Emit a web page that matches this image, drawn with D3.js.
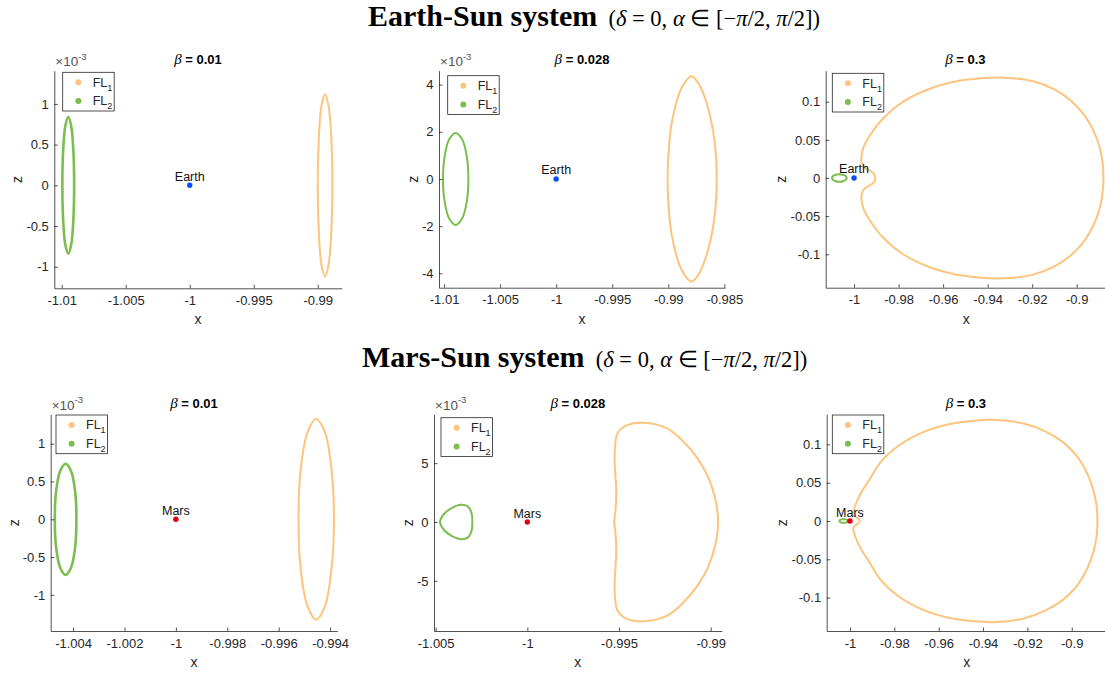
<!DOCTYPE html>
<html>
<head>
<meta charset="utf-8">
<script src="https://cdn.jsdelivr.net/npm/d3@7"></script>
<style>
  body { margin: 0; background: #fff; }
  svg { display: block; }
  text { font-family: "Liberation Sans", Arial, sans-serif; }
</style>
</head>
<body>
<svg id="chart" width="1105" height="673"></svg>
<script>
// ---- data ----
const systemNames = ['Earth', 'Mars'];
const betaLabels = ['0.01', '0.028', '0.3'];
const seriesNames = ['FL1', 'FL2'];
const planetPos = [-1, 0];

// Earth-Sun, beta = 0.01   (z in units of 1e-3)
const es001FL1 = [[-0.98886,0],[-0.98894,0.56],[-0.98915,0.97],[-0.98943,1.12],[-0.98972,0.97],[-0.98992,0.56],[-0.99000,0],[-0.98992,-0.56],[-0.98972,-0.97],[-0.98943,-1.12],[-0.98915,-0.97],[-0.98894,-0.56]];
const es001FL2 = [[-1.00903,0],[-1.00909,0.42],[-1.00926,0.73],[-1.00949,0.84],[-1.00972,0.73],[-1.00989,0.42],[-1.00995,0],[-1.00989,-0.42],[-1.00972,-0.73],[-1.00949,-0.84],[-1.00926,-0.73],[-1.00909,-0.42]];

// Earth-Sun, beta = 0.028  (z in units of 1e-3)
const es0028FL1 = [[-0.98569,0],[-0.98574,0.95],[-0.98613,2.36],[-0.98688,3.64],[-0.98740,4.12],[-0.98792,4.35],[-0.98848,4.12],[-0.98896,3.70],[-0.98970,2.36],[-0.99000,0.95],[-0.99006,0],[-0.99000,-0.95],[-0.98970,-2.36],[-0.98896,-3.70],[-0.98848,-4.12],[-0.98792,-4.35],[-0.98740,-4.12],[-0.98688,-3.64],[-0.98613,-2.36],[-0.98574,-0.95]];
const es0028FL2 = [[-1.00783,0],[-1.00798,0.98],[-1.00840,1.69],[-1.00896,1.95],[-1.00953,1.69],[-1.00994,0.98],[-1.01009,0],[-1.00994,-0.98],[-1.00953,-1.69],[-1.00896,-1.95],[-1.00840,-1.69],[-1.00798,-0.98]];

// Earth-Sun, beta = 0.3
const es03FL1 = [[-0.8880,0],[-0.8884,0.0200],[-0.8897,0.0400],[-0.8925,0.0620],[-0.8965,0.0820],[-0.9025,0.1010],[-0.9100,0.1160],[-0.9200,0.1270],[-0.9330,0.1315],[-0.9440,0.1303],[-0.9545,0.1265],[-0.9660,0.1170],[-0.9780,0.1000],[-0.9870,0.0780],[-0.9928,0.0560],[-0.9955,0.0420],[-0.9966,0.0300],[-0.9965,0.0200],[-0.9950,0.0130],[-0.9925,0.0090],[-0.9908,0.0045],[-0.9905,0],[-0.9908,-0.0045],[-0.9925,-0.0090],[-0.9950,-0.0130],[-0.9965,-0.0200],[-0.9966,-0.0300],[-0.9955,-0.0420],[-0.9928,-0.0560],[-0.9870,-0.0780],[-0.9780,-0.1000],[-0.9660,-0.1170],[-0.9545,-0.1265],[-0.9440,-0.1303],[-0.9330,-0.1315],[-0.9200,-0.1270],[-0.9100,-0.1160],[-0.9025,-0.1010],[-0.8965,-0.0820],[-0.8925,-0.0620],[-0.8897,-0.0400],[-0.8884,-0.0200]];
const es03FL2 = [[-1.00330,0],[-1.00374,0.0025],[-1.00495,0.0043],[-1.00660,0.0050],[-1.00825,0.0043],[-1.00946,0.0025],[-1.00990,0],[-1.00946,-0.0025],[-1.00825,-0.0043],[-1.00660,-0.0050],[-1.00495,-0.0043],[-1.00374,-0.0025]];

// Mars-Sun, beta = 0.01    (z in units of 1e-3)
const ms001FL1 = [[-0.99385,0],[-0.99395,0.67],[-0.99420,1.15],[-0.99454,1.33],[-0.99488,1.15],[-0.99514,0.67],[-0.99523,0],[-0.99514,-0.67],[-0.99488,-1.15],[-0.99454,-1.33],[-0.99420,-1.15],[-0.99395,-0.67]];
const ms001FL2 = [[-1.00387,0],[-1.00392,0.37],[-1.00408,0.64],[-1.00429,0.735],[-1.00450,0.64],[-1.00466,0.37],[-1.00471,0],[-1.00466,-0.37],[-1.00450,-0.64],[-1.00429,-0.735],[-1.00408,-0.64],[-1.00392,-0.37]];

// Mars-Sun, beta = 0.028   (z in units of 1e-3)
const ms0028FL1 = [[-0.98960,0],[-0.98962,0.74],[-0.98978,2.15],[-0.99015,3.85],[-0.99072,5.41],[-0.99148,6.82],[-0.99238,7.96],[-0.99366,8.44],[-0.99466,8.16],[-0.99508,7.54],[-0.99520,6.69],[-0.99524,5.27],[-0.99519,3.85],[-0.99515,2.44],[-0.99519,1.02],[-0.99526,0],[-0.99519,-1.02],[-0.99515,-2.44],[-0.99519,-3.85],[-0.99524,-5.27],[-0.99520,-6.69],[-0.99508,-7.54],[-0.99466,-8.16],[-0.99366,-8.44],[-0.99238,-7.96],[-0.99148,-6.82],[-0.99072,-5.41],[-0.99015,-3.85],[-0.98978,-2.15],[-0.98962,-0.74]];
const ms0028FL2 = [[-1.00300,0],[-1.00304,0.75],[-1.00325,1.33],[-1.00365,1.46],[-1.00411,1.20],[-1.00453,0.70],[-1.00476,0],[-1.00453,-0.70],[-1.00411,-1.20],[-1.00365,-1.46],[-1.00325,-1.33],[-1.00304,-0.75]];

// Mars-Sun, beta = 0.3
const ms03FL1 = [[-0.8884,0],[-0.8888,0.0200],[-0.8902,0.0400],[-0.8930,0.0620],[-0.8975,0.0840],[-0.9040,0.1030],[-0.9120,0.1170],[-0.9220,0.1275],[-0.9338,0.1319],[-0.9450,0.1307],[-0.9560,0.1260],[-0.9670,0.1160],[-0.9780,0.0985],[-0.9860,0.0775],[-0.9912,0.0540],[-0.9950,0.0370],[-0.9975,0.0210],[-0.9985,0.0090],[-0.9972,0.0050],[-0.9955,0],[-0.9972,-0.0050],[-0.9985,-0.0090],[-0.9975,-0.0210],[-0.9950,-0.0370],[-0.9912,-0.0540],[-0.9860,-0.0775],[-0.9780,-0.0985],[-0.9670,-0.1160],[-0.9560,-0.1260],[-0.9450,-0.1307],[-0.9338,-0.1319],[-0.9220,-0.1275],[-0.9120,-0.1170],[-0.9040,-0.1030],[-0.8975,-0.0840],[-0.8930,-0.0620],[-0.8902,-0.0400],[-0.8888,-0.0200]];
const ms03FL2 = [[-1.00094,0],[-1.00119,0.0012],[-1.00189,0.0021],[-1.00284,0.0024],[-1.00379,0.0021],[-1.00449,0.0012],[-1.00474,0],[-1.00449,-0.0012],[-1.00379,-0.0021],[-1.00284,-0.0024],[-1.00189,-0.0021],[-1.00119,-0.0012]];

// tick values
const esXTicks001 = [-1.01, -1.005, -1, -0.995, -0.99];
const esXTicks0028 = [-1.01, -1.005, -1, -0.995, -0.99, -0.985];
const msXTicks001 = [-1.004, -1.002, -1, -0.998, -0.996, -0.994];
const msXTicks0028 = [-1.005, -1, -0.995, -0.99];
const xTicksBeta03 = [-1, -0.98, -0.96, -0.94, -0.92, -0.9];
const zTicksHalf = [-1, -0.5, 0, 0.5, 1];
const zTicksEs0028 = [-4, -2, 0, 2, 4];
const zTicksMs0028 = [-5, 0, 5];
const zTicksBeta03 = [-0.1, -0.05, 0, 0.05, 0.1];

// ---- layout / style ----
const colors = { FL1: '#fdc47e', FL2: '#7bbd4f', Earth: '#0a4cff', Mars: '#e0000a', axis: '#262626' };

const panels = [
  { sys: 0, beta: 0, fl1: es001FL1, fl2: es001FL2, xTicks: esXTicks001, zTicks: zTicksHalf, exp: true,
    xDomain: [-1.01058, -0.98813], zDomain: [-1.265, 1.408], box: [54.3, 70.7, 341.7, 288.3], leg: [8.4, 1.6], w2: 2.6 },
  { sys: 0, beta: 1, fl1: es0028FL1, fl2: es0028FL2, xTicks: esXTicks0028, zTicks: zTicksEs0028, exp: true,
    xDomain: [-1.01045, -0.98494], zDomain: [-4.61, 4.59], box: [439, 70.7, 725, 287.7], leg: [8.7, 5], w2: 2 },
  { sys: 0, beta: 2, fl1: es03FL1, fl2: es03FL2, xTicks: xTicksBeta03, zTicks: zTicksBeta03, exp: false,
    xDomain: [-1.01272, -0.8873], zDomain: [-0.1438, 0.1406], box: [825.7, 70.7, 1105, 287.7], leg: [6.6, 2.6], w2: 2 },
  { sys: 1, beta: 0, fl1: ms001FL1, fl2: ms001FL2, xTicks: msXTicks001, zTicks: zTicksHalf, exp: true,
    xDomain: [-1.00487, -0.99372], zDomain: [-1.478, 1.389], box: [50.7, 414.3, 337.3, 631], leg: [5.3, 0.7], w2: 2.6 },
  { sys: 1, beta: 1, fl1: ms0028FL1, fl2: ms0028FL2, xTicks: msXTicks0028, zTicks: zTicksMs0028, exp: true,
    xDomain: [-1.00509, -0.9894], zDomain: [-9.26, 9.15], box: [434, 414.3, 721.7, 631], leg: [7, 3.4], w2: 2 },
  { sys: 1, beta: 2, fl1: ms03FL1, fl2: ms03FL2, xTicks: xTicksBeta03, zTicks: zTicksBeta03, exp: false,
    xDomain: [-1.0105, -0.885], zDomain: [-0.1436, 0.1393], box: [826.7, 414.3, 1105, 631], leg: [5.6, 0.7], w2: 2 }
];

const svg = d3.select('#chart');
svg.append('rect').attr('width', 1105).attr('height', 673).attr('fill', '#fff');

// big row titles
const rowTitles = [
  { name: 'Earth-Sun system', x: 368, y: 26 },
  { name: 'Mars-Sun system', x: 362, y: 366.7 }
];
rowTitles.forEach(rt => {
  const t = svg.append('text')
    .attr('x', rt.x).attr('y', rt.y)
    .style('font-family', '"Liberation Serif", "Times New Roman", serif')
    .attr('fill', '#000');
  t.append('tspan').attr('font-weight', 'bold').attr('font-size', 30).text(rt.name);
  const m = t.append('tspan').attr('font-size', 22.5);
  m.append('tspan').text('\u2002(');
  m.append('tspan').attr('font-style', 'italic').text('δ');
  m.append('tspan').text(' = 0, ');
  m.append('tspan').attr('font-style', 'italic').text('α');
  m.append('tspan').text(' ∈ [−');
  m.append('tspan').attr('font-style', 'italic').text('π');
  m.append('tspan').text('/2, ');
  m.append('tspan').attr('font-style', 'italic').text('π');
  m.append('tspan').text('/2])');
});

const fmt = d => String(d).replace('\u2212', '-');

panels.forEach(p => {
  const [l, t, r, b] = p.box;
  const g = svg.append('g');
  const x = d3.scaleLinear().domain(p.xDomain).range([l, r]);
  const z = d3.scaleLinear().domain(p.zDomain).range([b, t]);

  // curves
  const line = d3.line()
    .x(d => x(d[0]))
    .y(d => z(d[1]))
    .curve(d3.curveCatmullRomClosed.alpha(0.5));

  g.append('path').datum(p.fl1).attr('d', line)
    .attr('fill', 'none').attr('stroke', colors.FL1).attr('stroke-width', 2);
  g.append('path').datum(p.fl2).attr('d', line)
    .attr('fill', 'none').attr('stroke', colors.FL2).attr('stroke-width', p.w2);

  // axes (MATLAB style: ticks inward, box off)
  const xAxis = g.append('g')
    .attr('transform', `translate(0,${b})`)
    .call(d3.axisBottom(x).tickValues(p.xTicks).tickFormat(fmt)
      .tickSizeInner(-3.5).tickSizeOuter(0).tickPadding(7.5));
  const zAxis = g.append('g')
    .attr('transform', `translate(${l},0)`)
    .call(d3.axisLeft(z).tickValues(p.zTicks).tickFormat(fmt)
      .tickSizeInner(-3.5).tickSizeOuter(0).tickPadding(5.5));

  [xAxis, zAxis].forEach(a => {
    a.select('.domain').attr('stroke', colors.axis).attr('stroke-width', 0.8);
    a.selectAll('.tick line').attr('stroke', colors.axis).attr('stroke-width', 0.8);
    a.selectAll('.tick text').attr('fill', colors.axis).attr('font-size', 13)
      .style('font-family', '"Liberation Sans", Arial, sans-serif');
  });

  let maxW = 0;
  zAxis.selectAll('.tick text').each(function () { maxW = Math.max(maxW, this.getBBox().width); });

  // axis labels
  g.append('text')
    .attr('x', (l + r) / 2 + (p.beta === 2 ? 1 : 0))
    .attr('y', b + 36)
    .attr('text-anchor', 'middle').attr('font-size', 14).attr('fill', colors.axis)
    .text('x');
  g.append('text')
    .attr('transform', `translate(${l - 5.5 - maxW - 9},${(t + b) / 2}) rotate(-90)`)
    .attr('text-anchor', 'middle').attr('dy', '0.35em')
    .attr('font-size', 14).attr('fill', colors.axis)
    .text('z');

  // exponent label
  if (p.exp) {
    const e = g.append('text').attr('x', l + 1).attr('y', t - 4.7)
      .attr('font-size', 13.5).attr('fill', '#555');
    e.append('tspan').text('×10');
    e.append('tspan').attr('font-size', 9.5).attr('dy', -6.5).text('-3');
  }

  // panel title
  const ttl = g.append('text')
    .attr('x', (l + r) / 2).attr('y', t - 6.5)
    .attr('text-anchor', 'middle').attr('fill', '#000');
  ttl.append('tspan').attr('font-style', 'italic').attr('font-size', 15)
    .style('font-family', '"Liberation Serif", serif').text('β');
  ttl.append('tspan').attr('font-weight', 'bold').attr('font-size', 13).text(' = ' + betaLabels[p.beta]);

  // planet
  const planet = systemNames[p.sys];
  g.append('circle').attr('cx', x(planetPos[0])).attr('cy', z(planetPos[1]))
    .attr('r', 2.7).attr('fill', colors[planet]);
  g.append('text').attr('x', x(planetPos[0])).attr('y', z(planetPos[1]) - 4.5)
    .attr('text-anchor', 'middle').attr('font-size', 12.5).attr('fill', '#111')
    .text(planet);

  // legend
  const bx = l + p.leg[0], by = t + p.leg[1];
  const lg = g.append('g').attr('transform', `translate(${bx},${by})`);
  lg.append('rect').attr('width', 51.5).attr('height', 38.7)
    .attr('fill', '#fff').attr('stroke', colors.axis).attr('stroke-width', 0.8);
  seriesNames.forEach((s, i) => {
    const cy = 10 + i * 18.7;
    lg.append('circle').attr('cx', 15.6).attr('cy', cy).attr('r', 3).attr('fill', colors[s]);
    const tx = lg.append('text').attr('x', 30).attr('y', cy + 4.3)
      .attr('font-size', 12.5).attr('fill', colors.axis);
    tx.append('tspan').text(s.slice(0, 2));
    tx.append('tspan').attr('font-size', 9).attr('dy', 4).text(s.slice(2));
  });
});
</script>
</body>
</html>
